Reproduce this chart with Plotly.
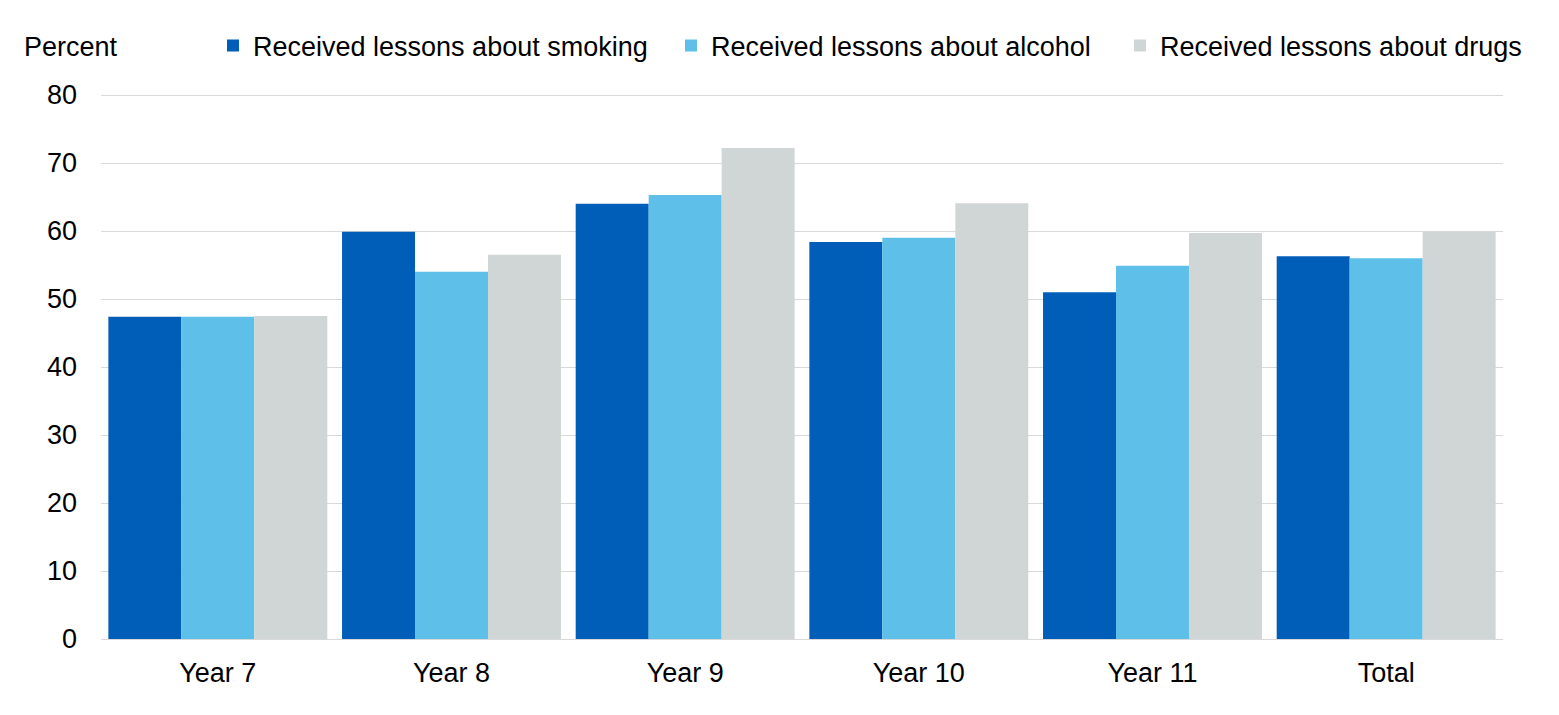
import plotly.graph_objects as go

categories = ["Year 7", "Year 8", "Year 9", "Year 10", "Year 11", "Total"]
smoking = [47.4, 59.9, 64.0, 58.4, 51.0, 56.3]
alcohol = [47.4, 54.0, 65.3, 59.0, 54.9, 56.0]
drugs = [47.5, 56.5, 72.2, 64.1, 59.7, 59.9]
series_names = ["Received lessons about smoking", "Received lessons about alcohol", "Received lessons about drugs"]
colors = ["#005EB8", "#5EC0E8", "#D0D6D6"]
y_ticks = [0, 10, 20, 30, 40, 50, 60, 70, 80]

FONT = "Liberation Sans, Arial, sans-serif"
FS = 27
W, H = 1559, 715
L, R, T, B = 101, 56, 94, 76
PW, PH = W - L - R, H - T - B

legend_ids = ["legend", "legend2", "legend3"]
legend_x = [213, 671, 1120]

fig = go.Figure()
for name, vals, col, lid in zip(series_names, [smoking, alcohol, drugs], colors, legend_ids):
    fig.add_trace(go.Bar(x=categories, y=vals, name=name, legend=lid,
                         marker=dict(color=col, line=dict(width=0))))

legend_common = dict(orientation="h", xref="container", yref="container",
                     xanchor="left", y=1 - 46/H, yanchor="middle",
                     font=dict(family=FONT, size=FS, color="#000000"),
                     itemwidth=30, bgcolor="rgba(0,0,0,0)")

fig.update_layout(
    width=W, height=H,
    margin=dict(l=L, r=R, t=T, b=B, autoexpand=False),
    paper_bgcolor="white", plot_bgcolor="white",
    barmode="group", bargap=0.063, bargroupgap=0,
    font=dict(family=FONT, size=FS, color="#000000"),
    showlegend=True,
    legend=dict(x=legend_x[0]/W, **legend_common),
    legend2=dict(x=legend_x[1]/W, **legend_common),
    legend3=dict(x=legend_x[2]/W, **legend_common),
    xaxis=dict(showgrid=False, showline=True, linecolor="#D9D9D9", linewidth=1,
               ticks="", tickfont=dict(family=FONT, size=FS), ticklabelstandoff=10,
               automargin=False),
    yaxis=dict(range=[0, 80.15], tickvals=y_ticks, showgrid=True, gridcolor="#D9D9D9", gridwidth=1,
               zeroline=True, zerolinecolor="#D9D9D9", zerolinewidth=1,
               showline=False, ticks="", tickfont=dict(family=FONT, size=FS), ticklabelstandoff=23,
               automargin=False),
    annotations=[dict(text="Percent", xref="paper", yref="paper",
                      x=(22 - L)/PW, y=(H - B - 47)/PH, xanchor="left", yanchor="middle",
                      showarrow=False, font=dict(family=FONT, size=FS, color="#000000"))],
)

fig.write_html("out.html")
